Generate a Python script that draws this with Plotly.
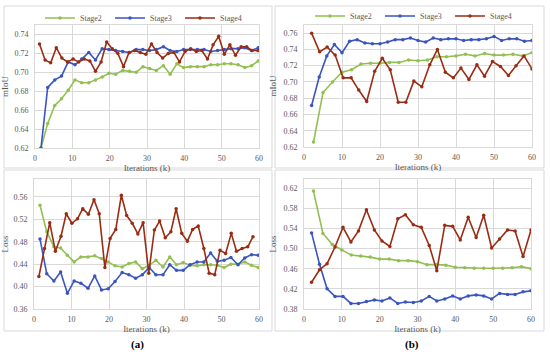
import plotly.graph_objects as go

# ---------------- data ----------------
# panel (a)
x_a_s23 = [1.6, 3.4, 5.3, 7.1, 8.9, 10.7, 12.5, 14.4, 16.2, 18.0, 19.8, 21.6, 23.5, 25.3, 27.1, 28.9,
           30.7, 32.5, 34.4, 36.2, 38.0, 39.8, 41.6, 43.5, 45.3, 47.1, 48.9, 50.7, 52.5, 54.4, 56.2, 58.0, 59.8]
x_a_s4_top = [1.2, 2.7, 4.2, 5.7, 7.2, 8.7, 10.2, 11.7, 13.2, 14.7, 16.2, 17.7, 19.2, 20.7, 22.2, 23.7,
              25.2, 26.7, 28.2, 29.7, 31.2, 32.7, 34.2, 35.7, 37.2, 38.7, 40.2, 41.7, 43.2, 44.7, 46.2,
              47.7, 49.2, 50.7, 52.2, 53.7, 55.2, 56.7, 58.2, 59.7]
x_a_s4_bot = [1.3, 2.8, 4.2, 5.7, 7.2, 8.6, 10.1, 11.6, 13.0, 14.5, 16.0, 17.4, 18.9, 20.3, 21.8, 23.3,
              24.7, 26.2, 27.7, 29.1, 30.6, 32.1, 33.5, 35.0, 36.5, 37.9, 39.4, 40.9, 42.3, 43.8, 45.3,
              46.7, 48.2, 49.6, 51.1, 52.6, 54.0, 55.5, 57.0, 58.4]

miou_a_stage2 = [0.620, 0.646, 0.665, 0.672, 0.681, 0.692, 0.689, 0.689, 0.692, 0.695, 0.699, 0.698, 0.702,
                 0.701, 0.700, 0.706, 0.704, 0.702, 0.707, 0.698, 0.709, 0.705, 0.706, 0.706, 0.706, 0.708,
                 0.708, 0.709, 0.709, 0.708, 0.705, 0.707, 0.712]
miou_a_stage3 = [0.620, 0.684, 0.692, 0.696, 0.711, 0.708, 0.714, 0.721, 0.713, 0.725, 0.724, 0.723, 0.722,
                 0.721, 0.724, 0.724, 0.723, 0.724, 0.727, 0.723, 0.722, 0.724, 0.724, 0.724, 0.724, 0.722,
                 0.723, 0.724, 0.725, 0.725, 0.726, 0.723, 0.726]
miou_a_stage4 = [0.730, 0.713, 0.710, 0.726, 0.715, 0.711, 0.714, 0.711, 0.714, 0.712, 0.701, 0.711, 0.732,
                 0.725, 0.720, 0.706, 0.721, 0.723, 0.721, 0.719, 0.730, 0.721, 0.715, 0.720, 0.721, 0.711,
                 0.722, 0.725, 0.722, 0.723, 0.714, 0.729, 0.738, 0.719, 0.729, 0.718, 0.727, 0.727,
                 0.723, 0.723]
loss_a_stage2 = [0.545, 0.498, 0.471, 0.469, 0.456, 0.444, 0.453, 0.453, 0.455, 0.450, 0.444, 0.437, 0.435,
                 0.441, 0.444, 0.432, 0.438, 0.447, 0.435, 0.453, 0.439, 0.443, 0.438, 0.437, 0.439, 0.439,
                 0.438, 0.434, 0.440, 0.440, 0.444, 0.438, 0.434]
loss_a_stage3 = [0.485, 0.423, 0.410, 0.426, 0.388, 0.410, 0.406, 0.397, 0.419, 0.394, 0.396, 0.409, 0.425,
                 0.421, 0.415, 0.421, 0.434, 0.421, 0.421, 0.439, 0.429, 0.429, 0.439, 0.444, 0.444, 0.460,
                 0.445, 0.447, 0.452, 0.439, 0.451, 0.457, 0.456]
loss_a_stage4 = [0.418, 0.468, 0.514, 0.463, 0.490, 0.530, 0.513, 0.521, 0.539, 0.529, 0.555, 0.530, 0.434,
                 0.486, 0.502, 0.563, 0.527, 0.513, 0.494, 0.514, 0.424, 0.501, 0.517, 0.487, 0.498, 0.539,
                 0.495, 0.481, 0.502, 0.508, 0.468, 0.424, 0.421, 0.465, 0.459, 0.495, 0.463, 0.468,
                 0.471, 0.489]

# panel (b)
x_b_30 = [2, 4, 6, 8, 10, 12, 14, 16, 18, 20, 22, 24, 26, 28, 30, 32, 34, 36, 38, 40, 42, 44, 46, 48, 50,
          52, 54, 56, 58, 60]
x_b_29 = [2.0, 4.1, 6.1, 8.2, 10.3, 12.4, 14.4, 16.5, 18.6, 20.6, 22.7, 24.8, 26.8, 28.9, 31.0, 33.1, 35.1,
          37.2, 39.3, 41.3, 43.4, 45.5, 47.5, 49.6, 51.7, 53.8, 55.8, 57.9, 60.0]
x_b_24 = [2.5, 5, 7.5, 10, 12.5, 15, 17.5, 20, 22.5, 25, 27.5, 30, 32.5, 35, 37.5, 40, 42.5, 45, 47.5, 50,
          52.5, 55, 57.5, 60]

miou_b_stage2 = [0.626, 0.687, 0.700, 0.712, 0.715, 0.722, 0.723, 0.723, 0.724, 0.724, 0.727, 0.726, 0.727,
                 0.731, 0.731, 0.732, 0.734, 0.732, 0.735, 0.733, 0.733, 0.734, 0.732, 0.736]
miou_b_stage3 = [0.671, 0.706, 0.732, 0.746, 0.736, 0.750, 0.752, 0.748, 0.747, 0.747, 0.749, 0.752, 0.752,
                 0.754, 0.751, 0.749, 0.754, 0.752, 0.753, 0.753, 0.751, 0.752, 0.752, 0.753, 0.756, 0.751,
                 0.753, 0.753, 0.750, 0.751]
miou_b_stage4 = [0.760, 0.737, 0.743, 0.733, 0.705, 0.705, 0.690, 0.676, 0.713, 0.729, 0.715, 0.675, 0.675,
                 0.701, 0.694, 0.721, 0.740, 0.712, 0.705, 0.717, 0.703, 0.721, 0.707, 0.725, 0.719, 0.708,
                 0.720, 0.732, 0.716]
loss_b_stage2 = [0.614, 0.530, 0.508, 0.497, 0.487, 0.485, 0.483, 0.479, 0.479, 0.476, 0.476, 0.474, 0.468,
                 0.468, 0.467, 0.463, 0.462, 0.461, 0.461, 0.461, 0.461, 0.462, 0.464, 0.460]
loss_b_stage3 = [0.531, 0.469, 0.420, 0.405, 0.405, 0.391, 0.391, 0.395, 0.398, 0.396, 0.402, 0.391, 0.394,
                 0.393, 0.396, 0.405, 0.396, 0.400, 0.406, 0.400, 0.406, 0.408, 0.406, 0.400, 0.411, 0.409,
                 0.409, 0.414, 0.416]
loss_b_stage4 = [0.433, 0.458, 0.470, 0.503, 0.542, 0.513, 0.535, 0.577, 0.537, 0.515, 0.504, 0.559, 0.567,
                 0.547, 0.542, 0.506, 0.456, 0.546, 0.544, 0.517, 0.562, 0.522, 0.566, 0.501, 0.519, 0.537,
                 0.535, 0.484, 0.537]

series_names = ["Stage2", "Stage3", "Stage4"]
x_ticks = [0, 10, 20, 30, 40, 50, 60]
miou_ticks_a = [0.62, 0.64, 0.66, 0.68, 0.70, 0.72, 0.74]
miou_ticks_b = [0.62, 0.64, 0.66, 0.68, 0.70, 0.72, 0.74, 0.76]
loss_ticks_a = [0.36, 0.40, 0.44, 0.48, 0.52, 0.56]
loss_ticks_b = [0.38, 0.42, 0.46, 0.50, 0.54, 0.58, 0.62]

# ---------------- style ----------------
COL = {"Stage2": "#92C050", "Stage3": "#3A55C0", "Stage4": "#9A2C14"}
FONT = "Liberation Serif"
W, H = 550, 352
GRID = "#D9D9D9"
TXT = "#595959"

def px_x(a, b):
    return [a / W, b / W]

def px_y(top, bottom):
    return [1 - bottom / H, 1 - top / H]

fig = go.Figure()

def add(xs, ys, name, xa, ya, legend=None):
    fig.add_trace(go.Scatter(
        x=xs, y=ys, name=name, mode="lines+markers",
        line=dict(color=COL[name], width=1.6),
        marker=dict(color=COL[name], size=3.5, symbol="circle"),
        xaxis=xa, yaxis=ya,
        showlegend=legend is not None,
        legend=legend if legend else "legend",
    ))

add(x_a_s23, miou_a_stage2, "Stage2", "x", "y", "legend")
add(x_a_s23, miou_a_stage3, "Stage3", "x", "y", "legend")
add(x_a_s4_top, miou_a_stage4, "Stage4", "x", "y", "legend")

add(x_b_24, miou_b_stage2, "Stage2", "x2", "y2", "legend2")
add(x_b_30, miou_b_stage3, "Stage3", "x2", "y2", "legend2")
add(x_b_29, miou_b_stage4, "Stage4", "x2", "y2", "legend2")

add(x_a_s23, loss_a_stage2, "Stage2", "x3", "y3")
add(x_a_s23, loss_a_stage3, "Stage3", "x3", "y3")
add(x_a_s4_bot, loss_a_stage4, "Stage4", "x3", "y3")

add(x_b_24, loss_b_stage2, "Stage2", "x4", "y4")
add(x_b_29, loss_b_stage3, "Stage3", "x4", "y4")
add(x_b_29, loss_b_stage4, "Stage4", "x4", "y4")

tickfont = dict(family=FONT, size=8, color=TXT)
titlefont = dict(family=FONT, size=9, color=TXT)

def xaxis(domain, anchor):
    return dict(domain=domain, anchor=anchor, range=[0, 60], tickvals=x_ticks,
                showgrid=True, gridcolor=GRID, gridwidth=1, zeroline=False,
                showline=True, linecolor=GRID, mirror=True, ticks="",
                tickfont=tickfont, ticklabelstandoff=2, automargin=False,
                title=dict(text="Iterations (k)", font=titlefont, standoff=1))

def yaxis(domain, anchor, rng, tv, title):
    return dict(domain=domain, anchor=anchor, range=rng, tickvals=tv,
                ticktext=[f"{v:.2f}" for v in tv],
                showgrid=True, gridcolor=GRID, gridwidth=1, zeroline=False,
                showline=True, linecolor=GRID, mirror=True, ticks="",
                tickfont=tickfont, ticklabelstandoff=4, automargin=False,
                title=dict(text=title, font=titlefont, standoff=5))

legend_common = dict(orientation="h", xanchor="left", yanchor="middle",
                     font=dict(family=FONT, size=8, color=TXT), entrywidth=25, entrywidthmode="pixels",
                     itemwidth=30, bgcolor="rgba(0,0,0,0)", tracegroupgap=0)

fig.update_layout(
    width=W, height=H,
    margin=dict(l=0, r=0, t=0, b=0, autoexpand=False),
    paper_bgcolor="white", plot_bgcolor="white",
    font=dict(family=FONT, color=TXT),
    xaxis=xaxis(px_x(35, 259), "y"),
    yaxis=yaxis(px_y(25, 148), "x", [0.62, 0.75], miou_ticks_a, "mIoU"),
    xaxis2=xaxis(px_x(304, 532), "y2"),
    yaxis2=yaxis(px_y(25, 147), "x2", [0.62, 0.77], miou_ticks_b, "mIoU"),
    xaxis3=xaxis(px_x(34, 259), "y3"),
    yaxis3=yaxis(px_y(179, 309), "x3", [0.36, 0.592], loss_ticks_a, "Loss"),
    xaxis4=xaxis(px_x(304, 531), "y4"),
    yaxis4=yaxis(px_y(179, 309), "x4", [0.38, 0.638], loss_ticks_b, "Loss"),
    legend=dict(x=40 / W, y=1 - 18 / H, **legend_common),
    legend2=dict(x=310 / W, y=1 - 16 / H, **legend_common),
    showlegend=True,
)

# chart area boxes
for (x0, y0, x1, y1) in [(4, 6, 272, 168), (275, 6, 544, 168), (4, 170, 272, 331), (275, 170, 544, 331)]:
    fig.add_shape(type="rect", xref="paper", yref="paper",
                  x0=x0 / W, x1=x1 / W, y0=1 - y1 / H, y1=1 - y0 / H,
                  line=dict(color=GRID, width=1), fillcolor="rgba(0,0,0,0)", layer="below")

for label, cx in [("(a)", 137), ("(b)", 412)]:
    fig.add_annotation(text=f"<b>{label}</b>", x=cx / W, y=1 - 344 / H, xref="paper", yref="paper",
                       showarrow=False, font=dict(family=FONT, size=11, color="#000000"),
                       xanchor="center", yanchor="middle")

fig.write_html("out.html", config={"displayModeBar": False},
               post_script="document.body.style.margin='0';document.body.style.overflow='hidden';")
